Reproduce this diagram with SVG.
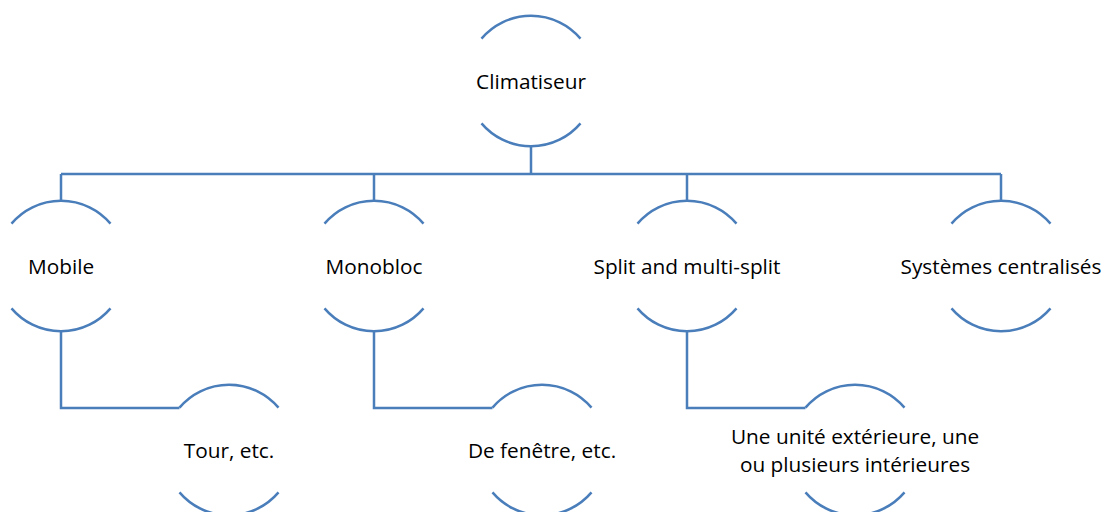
<svg xmlns="http://www.w3.org/2000/svg" width="1105" height="512" viewBox="0 0 1105 512">
<style>
.arc{fill:none;stroke:#4A7EBB;stroke-width:2.5}
.con{fill:none;stroke:#4A7EBB;stroke-width:2.5}
text{font-family:"Open Sans","Liberation Sans",sans-serif;font-size:20.8px;fill:#000;text-anchor:middle;dominant-baseline:central}
</style>
<defs>
<g id="shape">
<path class="arc" d="M-49.5,-42.4 A65,65 0 0 1 49.5,-42.4"/>
<path class="arc" d="M-49.5,42.4 A65,65 0 0 0 49.5,42.4"/>
</g>
</defs>
<rect width="1105" height="512" fill="#fff"/>
<g id="connectors">
<path class="con" d="M531,146V174M61,174H1001M61,174V201M374,174V201M687,174V201M1001,174V201"/>
<path class="con" d="M61,331V408H179.5M374,331V408H492.5M687,331V408H805.5"/>
</g>
<g id="n-climatiseur" transform="translate(531,81)"><use href="#shape"/><text x="0" y="0">Climatiseur</text></g>
<g id="n-mobile" transform="translate(61,266)"><use href="#shape"/><text x="0" y="0">Mobile</text></g>
<g id="n-monobloc" transform="translate(374,266)"><use href="#shape"/><text x="0" y="0">Monobloc</text></g>
<g id="n-split" transform="translate(687,266)"><use href="#shape"/><text x="0" y="0">Split and multi-split</text></g>
<g id="n-systemes" transform="translate(1001,266)"><use href="#shape"/><text x="0" y="0">Systèmes centralisés</text></g>
<g id="n-tour" transform="translate(229,450)"><use href="#shape"/><text x="0" y="0">Tour, etc.</text></g>
<g id="n-fenetre" transform="translate(542,450)"><use href="#shape"/><text x="0" y="0">De fenêtre, etc.</text></g>
<g id="n-unite" transform="translate(855,450)"><use href="#shape"/><text x="0" y="-14">Une unité extérieure, une</text><text x="0" y="14">ou plusieurs intérieures</text></g>
</svg>
